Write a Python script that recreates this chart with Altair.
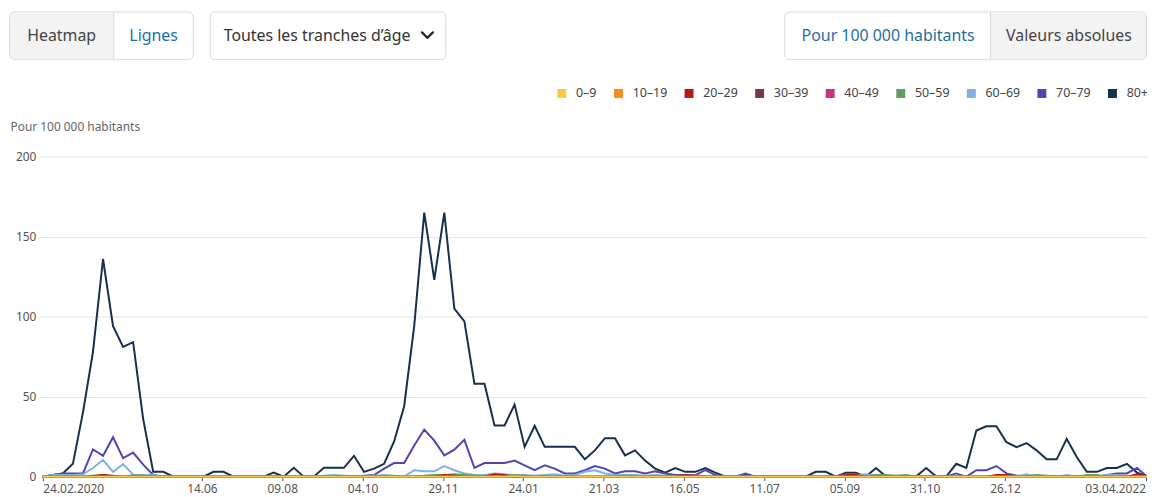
import altair as alt
import pandas as pd

# ---------------- data ----------------
weeks = [d.strftime("%Y-%m-%dT00:00:00") for d in pd.date_range("2020-02-24", periods=111, freq="7D")]

groups = ["0–9", "10–19", "20–29", "30–39", "40–49", "50–59", "60–69", "70–79", "80+"]
colors = ["#fdc742", "#f48c22", "#b5161c", "#733a4d", "#c9318a", "#659c62", "#80b1e3", "#5146b1", "#15304c"]

v_0_9 = [0, 0, 0, 0, 0, 0, 0, 0, 0, 0,
         0, 0, 0, 0, 0, 0, 0, 0, 0, 0,
         0, 0, 0, 0, 0, 0, 0, 0, 0, 0,
         0, 0, 0, 0, 0, 0, 0, 0, 0, 0,
         0, 0, 0, 0, 0, 0, 0, 0, 0, 0,
         0, 0, 0, 0, 0, 0, 0, 0, 0, 0,
         0, 0, 0, 0, 0, 0, 0, 0, 0, 0,
         0, 0, 0, 0, 0, 0, 0, 0, 0, 0,
         0, 0, 0, 0, 0, 0, 0, 0, 0, 0,
         0, 0, 0, 0, 0, 0, 0, 0, 0, 0,
         0, 0, 0, 0, 0, 0, 0, 0, 0, 0,
         0]
v_10_19 = [0, 0, 0, 0, 0, 0, 0, 0, 0, 0,
           0, 0, 0, 0, 0, 0, 0, 0, 0, 0,
           0, 0, 0, 0, 0, 0, 0, 0, 0, 0,
           0, 0, 0, 0, 0, 0, 0, 0, 0, 0,
           0, 0, 0, 0, 0, 0, 0, 0.5, 0, 0,
           0, 0, 0, 0, 0, 0, 0, 0, 0, 0,
           0, 0, 0, 0, 0, 0, 0, 0, 0, 0,
           0, 0, 0, 0, 0, 0, 0, 0, 0, 0,
           0, 0, 0, 0, 0, 0, 0, 0, 0, 0,
           0, 0, 0, 0, 0, 0, 0, 0, 0, 0,
           0, 0, 0, 0, 0, 0, 0, 0, 0, 0,
           0]
v_20_29 = [0, 0, 0, 0, 0, 0, 1, 0, 0, 0,
           0, 0, 0, 0, 0, 0, 0, 0, 0, 0,
           0, 0, 0, 0, 0, 0, 0, 0, 0, 0,
           0, 0, 0, 0, 0, 0, 0, 0, 0, 0,
           1, 0.5, 0, 0, 0, 1.5, 1, 0, 0, 0,
           0, 0, 0, 0, 0, 0, 0, 0, 0, 0,
           0, 0, 0, 0, 1, 0, 0, 0, 0, 0,
           0, 0, 0, 0, 0, 0, 0, 0, 0, 0,
           1, 1, 0, 0, 0, 0, 0, 0, 0, 0,
           0, 0, 0, 0, 0, 1, 1, 0, 0, 0,
           0, 0, 0, 0, 0, 0, 0, 0, 0, 1.5,
           0]
v_30_39 = [0, 0, 0, 0, 0, 0.5, 1, 0.5, 0, 0,
           0, 0, 0, 0, 0, 0, 0, 0, 0, 0,
           0, 0, 0, 0, 0, 0, 0, 0, 0, 0,
           0, 0, 0, 0, 0, 0, 0, 0, 0, 0,
           0, 0, 0, 0, 0, 0, 0, 0, 0, 0,
           0, 0, 0, 0, 0, 0, 0, 0, 0, 0,
           0, 0, 0, 0, 0, 0, 0, 0, 0, 0,
           0, 0, 0, 0, 0, 0, 0, 0, 0, 0,
           0, 0, 0, 0, 0, 0, 0, 0, 0, 0,
           0, 0, 0, 0, 0, 0, 0, 0, 0, 0,
           0, 0, 0, 0, 0, 0, 0, 0, 0, 0,
           0]
v_40_49 = [0, 0, 0, 0, 0, 0, 0, 0, 0, 0,
           0, 0, 0, 0, 0, 0, 0, 0, 0, 0,
           0, 0, 0, 0, 0, 0, 0, 0, 0, 0,
           0, 0, 0, 0, 0, 0, 0, 0, 0, 0,
           0, 0, 0, 0, 0, 0, 0, 0, 0, 0,
           0, 0, 0, 0, 0, 0, 0, 0, 0, 0,
           0, 0, 0, 0, 0, 1, 0, 0, 0, 0,
           0, 0, 0, 0, 0, 0, 0, 0, 0, 0,
           0, 0, 0, 0, 0, 0, 0, 0, 0, 0,
           0, 0, 0, 0, 0, 0, 0.5, 0, 0, 0,
           0, 0, 0, 0, 0, 0, 0, 0, 0, 0,
           0]
v_50_59 = [0, 0, 0, 0, 0, 0, 0, 0, 0, 0.8,
           0.5, 0, 0, 0, 0, 0, 0, 0, 0, 0,
           0, 0, 0, 0, 0, 0, 0, 0, 0, 0,
           0, 0, 0, 0, 0, 0, 0, 0, 0.5, 1,
           1, 1.5, 1, 0.5, 0, 0, 0, 1, 0.5, 0,
           0, 0, 0, 0, 0, 0, 0, 0, 0, 0,
           0, 0, 0, 0, 0, 0, 0, 0, 0, 0,
           0, 0, 0, 0, 0, 0, 0, 0, 0, 0,
           0, 0, 0, 1, 1, 0.5, 1, 0, 0, 0,
           0, 0, 0, 0, 0, 0, 0, 0, 0, 1,
           0.5, 0, 0, 0, 1, 1, 0, 0, 0, 0,
           0]
v_60_69 = [0, 1, 1, 1, 1.5, 5.4, 10.5, 3, 7.9, 1.2,
           1, 1, 0, 0, 0, 0, 0, 0, 0, 0,
           0, 0, 0, 0, 0, 0, 0, 0, 0.5, 1,
           0.5, 0, 0, 0.5, 1, 0.5, 0, 4, 3.3, 3.3,
           6.6, 4, 2, 1, 1, 2, 1.5, 1, 1, 0.5,
           1, 1.5, 0.5, 1, 3, 4, 2, 1, 1, 1,
           0.5, 1, 0.5, 0, 0, 0.5, 0, 0, 0, 0,
           0, 0, 0, 0, 0, 0, 0, 0, 0, 0,
           1, 1, 1.5, 0.5, 0, 0, 0, 0, 0, 0,
           0, 0, 0, 0, 0, 0.5, 0, 0, 1.5, 0,
           0, 0, 1, 0, 0, 0, 1, 1, 0, 0,
           0]
v_70_79 = [0, 1, 2, 2, 2, 17, 13, 24.6, 11.6, 15,
           7.5, 1, 0, 0, 0, 0, 0, 0, 0, 0,
           0, 0, 0, 0, 0, 0, 0, 0, 0, 0,
           0, 0, 0.5, 1, 5, 8.5, 8.5, 19.5, 29.4, 22.5,
           13.3, 16.8, 23, 5.4, 8.5, 8.5, 8.5, 10, 7, 4,
           7, 5, 2, 2, 4, 6.6, 5, 2, 3.3, 3.3,
           2, 3.3, 2, 1, 1, 1, 4, 1, 0, 0,
           2, 0, 0, 0, 0, 0, 0, 0, 0, 0,
           1.5, 1.5, 0, 1, 0, 0, 0, 0, 0, 0,
           0, 2, 0, 4, 4, 6.6, 2, 0.5, 0.5, 0.5,
           0, 0, 0.5, 0, 0, 0, 1, 2, 2, 5.4,
           0]
v_80 = [0, 1, 2, 8, 40, 78, 136, 94, 81, 84,
        36, 3, 3, 0, 0, 0, 0, 3, 3, 0,
        0, 0, 0, 2.5, 0, 5.5, 0, 0, 5.5, 5.5,
        5.5, 13, 3, 5, 8, 22, 44, 94, 165, 123,
        165, 105, 97, 58, 58, 32, 32, 45, 18.6, 31.7,
        18.6, 18.6, 18.6, 18.6, 10.8, 16.4, 24, 24, 13.3, 16.4,
        10, 5, 2.5, 5.4, 3, 3, 5.4, 2.5, 0, 0,
        1, 0, 0, 0, 0, 0, 0, 3, 3, 0,
        2.5, 2.5, 0, 5.4, 0, 0, 0, 0, 5.4, 0,
        0, 8, 5.4, 28.8, 31.5, 31.5, 21.5, 18.4, 21, 16.4,
        10.8, 10.8, 23.6, 12.2, 3, 3, 5.4, 5.4, 8, 2.5,
        0]

series = [v_0_9, v_10_19, v_20_29, v_30_39, v_40_49, v_50_59, v_60_69, v_70_79, v_80]

tick_dates = [(2020, 2, 24), (2020, 6, 14), (2020, 8, 9), (2020, 10, 4), (2020, 11, 29),
              (2021, 1, 24), (2021, 3, 21), (2021, 5, 16), (2021, 7, 11), (2021, 9, 5),
              (2021, 10, 31), (2021, 12, 26), (2022, 4, 3)]

rows = []
for g, vals in zip(groups, series):
    for d, v in zip(weeks, vals):
        rows.append({"date": d, "group": g, "value": v})
df = pd.DataFrame(rows)

# ---------------- layout helpers (page px -> plot px) ----------------
OX, OY = 43, 156
W, H = 1111, 322
FONT = "Noto Sans"


def px(x):
    return x - OX


def py(y):
    return y - OY


one = pd.DataFrame({"k": [0]})


def rect(x1, x2, y1, y2, **kw):
    return alt.Chart(one).mark_rect(**kw).encode(
        x=alt.value(px(x1)), x2=alt.value(px(x2)), y=alt.value(py(y1)), y2=alt.value(py(y2)))


def label(x, y, s, **kw):
    return alt.Chart(one).mark_text(text=s, baseline="middle", font=FONT, **kw).encode(
        x=alt.value(px(x)), y=alt.value(py(y)))


def seg(x1, y1, x2, y2, **kw):
    return alt.Chart(one).mark_rule(**kw).encode(
        x=alt.value(px(x1)), y=alt.value(py(y1)), x2=alt.value(px(x2)), y2=alt.value(py(y2)))


BORDER = "#d8d8d8"
GRAYBG = "#f3f3f3"
BLUE = "#1b6fa8"
DARK = "#444444"
BTN_FS = 16

decor = [
    # Heatmap / Lignes
    rect(9.5, 194.5, 10.5, 58.5, fill="white", stroke=BORDER, strokeWidth=1, cornerRadius=5),
    rect(10, 114, 11, 58, fill=GRAYBG, cornerRadiusTopLeft=4.5, cornerRadiusBottomLeft=4.5),
    seg(114.5, 11, 114.5, 58, color=BORDER, strokeWidth=1),
    label(62, 34.5, "Heatmap", align="center", fontSize=BTN_FS, color=DARK),
    label(154.5, 34.5, "Lignes", align="center", fontSize=BTN_FS, color=BLUE),
    # dropdown
    rect(211.5, 448.5, 10.5, 58.5, fill="white", stroke=BORDER, strokeWidth=1, cornerRadius=5),
    label(225, 34.5, "Toutes les tranches d’âge", align="left", fontSize=BTN_FS, color="#333333"),
    seg(424.5, 31, 430, 36.5, color="#222222", strokeWidth=2.2, strokeCap="round"),
    seg(430, 36.5, 435.5, 31, color="#222222", strokeWidth=2.2, strokeCap="round"),
    # Pour 100 000 habitants / Valeurs absolues
    rect(789.5, 1153.5, 10.5, 58.5, fill="white", stroke=BORDER, strokeWidth=1, cornerRadius=5),
    rect(997, 1153, 11, 58, fill=GRAYBG, cornerRadiusTopRight=4.5, cornerRadiusBottomRight=4.5),
    seg(996.5, 11, 996.5, 58, color=BORDER, strokeWidth=1),
    label(893.5, 34.5, "Pour 100 000 habitants", align="center", fontSize=BTN_FS, color=BLUE),
    label(1075.5, 34.5, "Valeurs absolues", align="center", fontSize=BTN_FS, color=DARK),
]

# ---------------- lines ----------------
x_enc = alt.X(
    "date:T",
    scale=alt.Scale(domain=[alt.DateTime(year=2020, month=2, date=24),
                            alt.DateTime(year=2022, month=4, date=4)]),
    axis=alt.Axis(
        values=[alt.DateTime(year=y, month=m, date=d) for (y, m, d) in tick_dates],
        labelExpr="datum.index == 0 || datum.index == 1 ? timeFormat(datum.value, '%d.%m.%Y') : timeFormat(datum.value, '%d.%m')",
        labelFlush=5, labelOverlap=False, grid=False, domain=True, domainColor="#666666",
        tickColor="#555555", tickSize=4, labelPadding=3, labelColor="#555555",
        labelFontSize=12, title=None),
)
y_enc = alt.Y(
    "value:Q",
    scale=alt.Scale(domain=[0, 200], nice=False),
    axis=alt.Axis(values=[0, 50, 100, 150, 200], grid=True, gridColor="#e4e4e4",
                  domain=False, tickColor="#e4e4e4", tickSize=4, labelPadding=3,
                  labelColor="#555555", labelFontSize=12,
                  title="Pour 100 000 habitants", titleAngle=0, titleX=-33, titleY=-26,
                  titleAlign="left", titleBaseline="alphabetic", titleFontWeight="normal",
                  titleFontSize=12, titleColor="#666666"),
)
c_enc = alt.Color(
    "group:N",
    scale=alt.Scale(domain=groups, range=colors),
    legend=alt.Legend(title=None, orient="none", legendX=516, legendY=-70,
                      direction="horizontal", columns=9, symbolType="square",
                      symbolSize=20.25, symbolStrokeWidth=4.5, symbolOpacity=1,
                      labelFontSize=12.5, labelColor="#444444", labelOffset=8,
                      columnPadding=10, padding=0),
)

lines = []
for g in reversed(groups):
    lines.append(
        alt.Chart(df).transform_filter(alt.datum.group == g)
        .mark_line(strokeWidth=2)
        .encode(x=x_enc, y=y_enc, color=c_enc)
    )

chart = (
    alt.layer(*decor, *lines)
    .properties(width=W, height=H,
                padding={"left": 35, "top": 148, "right": 0, "bottom": 19},
                autosize=alt.AutoSizeParams(type="none"),
                background="white")
    .configure(font=FONT)
    .configure_view(strokeWidth=0)
)

chart.save("out.html", embed_options={"renderer": "svg", "actions": False})
